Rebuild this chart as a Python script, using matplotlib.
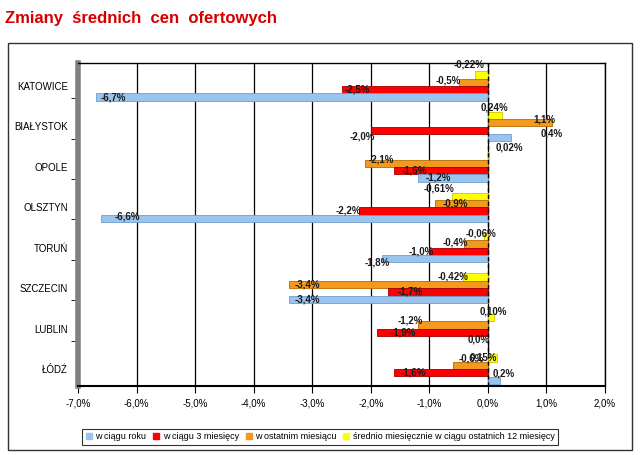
import numpy as np
import matplotlib.pyplot as plt
from matplotlib.patches import Rectangle
from matplotlib.lines import Line2D

plt.rcParams['font.family'] = ['Liberation Sans', 'DejaVu Sans']

# cities, top to bottom
cities = ["KATOWICE", "BIAŁYSTOK", "OPOLE", "OLSZTYN", "TORUŃ", "SZCZECIN", "LUBLIN", "ŁÓDŹ"]

# changes in %
w_ciagu_roku = [-6.7, 0.4, -1.2, -6.6, -1.8, -3.4, 0.0, 0.2]
w_ciagu_3_mies = [-2.5, -2.0, -1.6, -2.2, -1.0, -1.7, -1.9, -1.6]
w_ostatnim_mies = [-0.5, 1.1, -2.1, -0.9, -0.4, -3.4, -1.2, -0.6]
srednio_12_mies = [-0.22, 0.24, 0.02, -0.61, -0.06, -0.42, 0.10, 0.15]

# label text per series
lab_roku = ["-6,7%", "0,4%", "-1,2%", "-6,6%", "-1,8%", "-3,4%", "0,0%", "0,2%"]
lab_3m = ["-2,5%", "-2,0%", "-1,6%", "-2,2%", "-1,0%", "-1,7%", "-1,9%", "-1,6%"]
lab_1m = ["-0,5%", "1,1%", "-2,1%", "-0,9%", "-0,4%", "-3,4%", "-1,2%", "-0,6%"]
lab_12m = ["-0,22%", "0,24%", "0,02%", "-0,61%", "-0,06%", "-0,42%", "0,10%", "0,15%"]

# label offsets (pixels, y up) from the bar end
off_roku = [(18, 0), (40, 4), (21, 0), (26, 2), (-5, -4), (19, 0), (-9, 0), (4, 7)]
off_3m = [(16, 0), (-8, -6), (20, 0), (-11, 1), (-8, 0), (22, 0), (27, 0), (19, 0)]
off_1m = [(-10, 2), (-8, 3), (16, 4), (20, 0), (-9, 2), (19, 0), (-7, 4), (19, 7)]
off_12m = [(-6, 10), (-8, 8), (20, 8), (-13, 8), (-3, 3), (-10, 1), (0, 6), (-13, 0)]

xticks = np.arange(-7, 3, 1)
xticklabels = [("%.1f%%" % v).replace(".", ",") for v in xticks]

series = [
    ("średnio miesięcznie w ciągu ostatnich 12 miesięcy", srednio_12_mies, lab_12m, off_12m, "#FFFF00", "#C8C800"),
    ("w ostatnim miesiącu", w_ostatnim_mies, lab_1m, off_1m, "#F39A1E", "#B86A00"),
    ("w ciągu 3 miesięcy", w_ciagu_3_mies, lab_3m, off_3m, "#FF0000", "#A00000"),
    ("w ciągu roku", w_ciagu_roku, lab_roku, off_roku, "#99C4EE", "#6F9CCB"),
]

fig = plt.figure(figsize=(6.4, 4.55), dpi=100)
ax = fig.add_axes([0.1219, 0.1516, 0.8234, 0.71])

y = np.arange(len(cities))
step = 0.183
h = 0.18

ax.set_axisbelow(True)
ax.grid(axis='x', color='black', linewidth=0.9)

for i, (name, vals, labs, offs, col, edge) in enumerate(series):
    ypos = y + (i - 1.5) * step
    ax.barh(ypos, vals, height=h, color=col, edgecolor=edge, linewidth=0.6, zorder=3)
    for v, yy, t, (dx, dy) in zip(vals, ypos, labs, offs):
        ax.annotate(t, xy=(v, yy), xytext=(dx, dy), textcoords='offset pixels',
                    ha='center', va='center', fontsize=7, color='#1a1a1a',
                    fontweight='bold', zorder=5)

ax.axvline(0, color='black', linestyle=(0, (3, 2)), linewidth=1, zorder=4)

ax.set_xlim(-7, 2)
ax.set_ylim(7.42, -0.57)
ax.set_xticks(xticks)
ax.set_xticklabels(xticklabels, fontsize=7)
ax.set_yticks(y)
ax.set_yticklabels(cities, fontsize=7)
ax.tick_params(axis='y', length=0, pad=7)
ax.set_yticks(y[:-1] + 0.3, minor=True)
ax.tick_params(axis='y', which='minor', length=5, direction='out', color='black')
ax.tick_params(axis='x', length=5, direction='out', pad=4)

for s in ['top', 'right']:
    ax.spines[s].set_color('black')
    ax.spines[s].set_linewidth(1)
ax.spines['left'].set_color('#808080')
ax.spines['left'].set_linewidth(4)
ax.spines['bottom'].set_color('black')
ax.spines['bottom'].set_linewidth(1.5)

fig.text(0.008, 0.96, "Zmiany  średnich  cen  ofertowych", color='#D40000',
         fontsize=12, fontweight='bold', ha='left', va='center')

fig.patches.append(Rectangle((0.0125, 0.011), 0.975, 0.894, transform=fig.transFigure,
                             fill=False, edgecolor='#333333', linewidth=1))

handles = [Line2D([], [], marker='s', linestyle='none', markersize=5,
                  markerfacecolor=s[4], markeredgecolor=s[4]) for s in series[::-1]]
names = [s[0] for s in series[::-1]]
leg = fig.legend(handles, names, loc='center', bbox_to_anchor=(0.5, 0.04), ncol=4,
                 fontsize=6.5, frameon=True, fancybox=False, edgecolor='black',
                 handlelength=0.8, handletextpad=0.3, columnspacing=0.7, borderpad=0.4)
leg.get_frame().set_linewidth(0.8)

fig.savefig("out.png", dpi=100)
